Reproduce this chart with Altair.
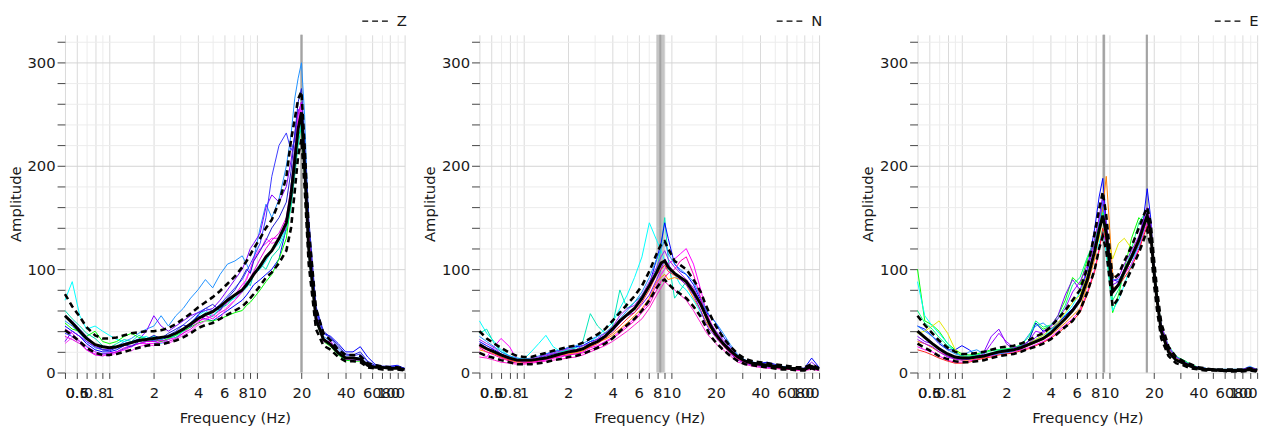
import altair as alt
import pandas as pd

FREQ = [0.5, 0.56, 0.63, 0.7, 0.8, 0.9,
        1.0, 1.12, 1.26, 1.41, 1.58, 1.78,
        2.0, 2.24, 2.51, 2.82, 3.16, 3.55, 3.98,
        4.47, 5.01, 5.62, 6.31, 7.08, 7.94,
        8.5, 9.0, 9.5, 10.5, 11.5, 12.6,
        14.1, 15.8, 17.0, 18.0, 19.0, 20.0,
        21.0, 22.4, 25.1, 28.2, 31.6, 35.5,
        39.8, 44.7, 50.1, 56.2, 63.1, 70.8,
        79.4, 89.1, 100.0]

X_TICKS = [0.5, 0.6, 0.7, 0.8, 0.9, 1, 2, 3, 4, 5, 6, 7, 8, 9,
           10, 20, 30, 40, 50, 60, 70, 80, 90, 100]
X_LABELS = [0.5, 0.6, 0.8, 1, 2, 4, 6, 8, 10, 20, 40, 60, 80, 100]
Y_TICKS = list(range(0, 321, 20))

# ---------------- Z component ----------------
Z_MEAN = [55, 48, 40, 33, 27, 25,
          24, 25, 27, 29, 31, 32,
          33, 34, 35, 38, 42, 47, 52,
          56, 59, 64, 70, 75, 80,
          85, 90, 95, 103, 112, 118,
          130, 145, 172, 205, 236, 252,
          200, 120, 52, 32, 27, 19,
          14, 14, 13, 7, 5, 5,
          4, 4, 3]
Z_UPPER = [76, 64, 54, 44, 36, 33,
           33, 34, 36, 38, 39, 40,
           40, 41, 43, 47, 52, 57, 63,
           68, 73, 79, 86, 93, 102,
           108, 114, 120, 130, 140, 148,
           165, 189, 225, 245, 265, 272,
           220, 140, 62, 38, 31, 22,
           17, 17, 16, 9, 7, 6,
           5, 5, 4]
Z_LOWER = [41, 36, 30, 24, 19, 17,
           17, 18, 20, 22, 24, 26,
           27, 27, 29, 31, 34, 38, 43,
           46, 48, 52, 56, 60, 64,
           68, 72, 76, 84, 92, 97,
           106, 118, 140, 175, 210, 226,
           180, 105, 42, 26, 22, 15,
           11, 11, 10, 5, 4, 3,
           3, 3, 2]
Z_W1 = [50, 45, 38, 30, 24, 22,
        22, 25, 30, 33, 38, 42,
        45, 55, 45, 55, 62, 72, 80,
        90, 82, 95, 105, 108, 113,
        105, 97, 110, 140, 163, 150,
        168, 200, 230, 265, 285, 300,
        250, 140, 55, 35, 30, 22,
        15, 14, 15, 8, 6, 5,
        5, 5, 4]
Z_W2 = [70, 88, 55, 42, 45, 40,
        36, 32, 30, 28, 33, 35,
        30, 28, 32, 36, 42, 48, 55,
        60, 55, 62, 68, 72, 78,
        82, 88, 95, 100, 108, 118,
        125, 140, 165, 195, 225, 245,
        195, 115, 50, 33, 27, 19,
        13, 12, 12, 7, 5, 4,
        4, 4, 3]
Z_W3 = [45, 40, 35, 28, 22, 20,
        20, 22, 26, 30, 32, 30,
        30, 32, 34, 38, 42, 48, 55,
        52, 50, 55, 60, 65, 70,
        75, 80, 85, 90, 95, 100,
        110, 140, 180, 215, 240, 260,
        215, 140, 62, 38, 35, 28,
        20, 20, 25, 15, 8, 6,
        6, 7, 4]
Z_W4 = [30, 40, 35, 30, 25, 22,
        22, 25, 28, 30, 32, 40,
        55, 45, 40, 45, 50, 55, 58,
        60, 62, 70, 80, 90, 100,
        110, 120, 125, 135, 160, 172,
        165, 180, 205, 230, 255, 245,
        195, 125, 52, 32, 26, 19,
        12, 12, 12, 7, 5, 4,
        4, 4, 3]
Z_W5 = [42, 38, 30, 22, 18, 18,
        19, 20, 22, 25, 28, 28,
        28, 30, 32, 34, 38, 45, 50,
        52, 55, 60, 68, 75, 85,
        90, 100, 110, 120, 125, 130,
        130, 140, 165, 200, 240, 255,
        205, 130, 55, 30, 30, 20,
        13, 12, 13, 7, 5, 4,
        4, 4, 3]
Z_W6 = [48, 42, 40, 35, 40, 30,
        28, 30, 35, 38, 34, 32,
        32, 30, 33, 36, 40, 44, 48,
        50, 50, 52, 55, 58, 60,
        65, 68, 72, 80, 88, 95,
        110, 130, 165, 200, 230, 235,
        190, 120, 50, 30, 25, 17,
        12, 11, 11, 7, 5, 4,
        4, 4, 3]
Z_W7 = [38, 35, 30, 25, 20, 18,
        18, 20, 23, 26, 28, 30,
        31, 33, 36, 40, 46, 52, 58,
        62, 60, 66, 74, 82, 90,
        98, 105, 112, 125, 150, 190,
        220, 232, 215, 225, 250, 262,
        210, 135, 58, 38, 33, 24,
        17, 16, 18, 10, 6, 5,
        5, 5, 4]
Z_W8 = [35, 32, 28, 22, 17, 16,
        18, 20, 24, 26, 28, 30,
        30, 31, 30, 33, 38, 42, 48,
        55, 52, 58, 62, 70, 78,
        85, 92, 98, 110, 120, 128,
        135, 150, 180, 215, 250, 262,
        215, 135, 55, 33, 28, 20,
        14, 12, 14, 8, 5, 4,
        4, 4, 3]
Z_W9 = [60, 52, 45, 38, 33, 26,
        24, 28, 32, 30, 36, 33,
        35, 32, 36, 34, 40, 46, 52,
        58, 54, 62, 66, 74, 80,
        88, 84, 95, 105, 100, 112,
        120, 138, 160, 190, 220, 240,
        200, 125, 52, 33, 26, 18,
        13, 12, 13, 7, 5, 4,
        4, 4, 3]
Z_W10 = [28, 34, 30, 26, 20, 17,
         16, 19, 22, 21, 25, 27,
         26, 29, 28, 32, 36, 40, 46,
         50, 56, 52, 64, 70, 80,
         92, 100, 108, 118, 130, 125,
         128, 148, 175, 210, 245, 258,
         210, 128, 52, 30, 28, 19,
         13, 12, 12, 7, 5, 4,
         4, 4, 3]
Z_W11 = [55, 50, 42, 35, 27, 22,
         21, 24, 27, 25, 30, 32,
         36, 33, 38, 42, 46, 44, 56,
         62, 66, 60, 72, 80, 92,
         100, 96, 108, 118, 128, 140,
         150, 165, 195, 230, 262, 275,
         225, 150, 64, 40, 34, 26,
         18, 17, 20, 11, 7, 6,
         6, 6, 4]
Z_WINDOWS = [Z_W1, Z_W2, Z_W3, Z_W4, Z_W5, Z_W6, Z_W7, Z_W8, Z_W9, Z_W10, Z_W11]
Z_COLORS = ["#1e90ff", "#00ffff", "#0000ff", "#8000ff", "#ff00ff", "#00ff00", "#3a3aff",
            "#e000e0", "#00e0b0", "#ff40ff", "#2020d0"]
Z_BAND_LO = [19.7]
Z_BAND_HI = [20.4]
Z_PEAKS = [20.0]

# ---------------- N component ----------------
N_MEAN = [27, 23, 20, 17, 14, 12,
          12, 12, 13, 14, 16, 18,
          20, 21, 23, 27, 30, 35, 42,
          50, 56, 62, 72, 84, 97,
          106, 108, 102, 96, 92, 88,
          78, 66, 56, 48, 42, 37,
          33, 28, 21, 15, 11, 9,
          8, 7, 6, 5, 4, 4,
          3, 6, 3]
N_UPPER = [40, 33, 28, 24, 19, 16,
           15, 15, 17, 19, 21, 23,
           25, 26, 29, 33, 37, 42, 50,
           58, 66, 74, 84, 98, 115,
           124, 127, 120, 108, 104, 100,
           90, 78, 66, 58, 51, 45,
           40, 34, 25, 18, 13, 11,
           10, 9, 8, 7, 6, 5,
           5, 8, 4]
N_LOWER = [19, 16, 14, 12, 10, 8,
           8, 8, 9, 10, 12, 13,
           15, 16, 18, 21, 24, 28, 33,
           40, 46, 52, 60, 70, 82,
           88, 90, 86, 80, 76, 72,
           64, 54, 45, 38, 33, 29,
           26, 22, 16, 11, 8, 7,
           6, 5, 4, 3, 3, 2,
           2, 4, 2]
N_W1 = [50, 38, 30, 22, 16, 14,
        13, 20, 28, 36, 25, 20,
        22, 24, 26, 30, 35, 42, 48,
        62, 75, 92, 112, 145, 128,
        118, 108, 100, 95, 85, 80,
        70, 58, 50, 45, 40, 36,
        32, 28, 20, 14, 11, 9,
        8, 7, 6, 5, 4, 4,
        3, 4, 3]
N_W2 = [38, 42, 28, 20, 16, 13,
        12, 12, 14, 16, 18, 20,
        22, 24, 30, 57, 45, 38, 45,
        80, 62, 68, 75, 85, 100,
        120, 150, 110, 72, 80, 88,
        80, 65, 55, 48, 44, 40,
        36, 30, 22, 15, 12, 10,
        8, 7, 6, 5, 4, 4,
        3, 4, 3]
N_W3 = [20, 15, 25, 33, 25, 12,
        10, 10, 11, 12, 14, 15,
        17, 18, 20, 24, 26, 30, 34,
        40, 46, 52, 60, 70, 85,
        95, 100, 105, 110, 115, 120,
        105, 80, 62, 52, 45, 40,
        36, 30, 22, 15, 11, 9,
        8, 6, 5, 4, 4, 3,
        3, 4, 3]
N_W4 = [30, 26, 22, 18, 14, 12,
        10, 11, 14, 18, 20, 22,
        24, 25, 26, 30, 32, 36, 40,
        50, 55, 62, 70, 85, 110,
        125, 145, 130, 105, 98, 95,
        85, 70, 60, 55, 52, 48,
        42, 35, 25, 16, 12, 10,
        9, 10, 8, 6, 5, 4,
        4, 14, 5]
N_W5 = [22, 20, 18, 15, 12, 10,
        10, 10, 12, 13, 15, 17,
        18, 19, 21, 25, 30, 32, 36,
        42, 48, 55, 62, 72, 88,
        92, 95, 90, 92, 90, 85,
        72, 60, 50, 44, 40, 36,
        32, 27, 20, 14, 10, 8,
        7, 6, 5, 4, 3, 3,
        3, 4, 3]
N_W6 = [28, 24, 20, 16, 13, 11,
        10, 11, 13, 16, 18, 19,
        20, 21, 23, 27, 30, 35, 40,
        48, 55, 58, 66, 75, 90,
        100, 110, 105, 95, 90, 85,
        75, 60, 48, 42, 38, 34,
        30, 26, 18, 12, 9, 7,
        6, 5, 5, 4, 3, 3,
        3, 4, 2]
N_W7 = [15, 14, 12, 10, 9, 8,
        8, 9, 10, 11, 12, 13,
        14, 15, 17, 20, 23, 26, 30,
        35, 40, 46, 52, 62, 75,
        82, 88, 85, 80, 75, 70,
        60, 48, 40, 35, 32, 28,
        25, 22, 16, 10, 8, 6,
        5, 4, 4, 3, 3, 2,
        2, 3, 2]
N_W8 = [35, 30, 25, 20, 16, 14,
        13, 14, 16, 18, 20, 22,
        24, 26, 28, 32, 35, 38, 42,
        52, 60, 68, 78, 92, 110,
        120, 128, 115, 105, 100, 95,
        88, 72, 62, 56, 52, 48,
        44, 38, 27, 17, 12, 10,
        9, 8, 7, 6, 5, 4,
        4, 6, 4]
N_W9 = [25, 22, 19, 15, 12, 11,
        10, 11, 12, 14, 15, 17,
        19, 20, 22, 25, 28, 33, 38,
        45, 52, 58, 68, 80, 95,
        100, 104, 98, 94, 92, 90,
        80, 65, 54, 46, 40, 35,
        31, 26, 19, 13, 10, 8,
        7, 6, 5, 4, 3, 3,
        3, 5, 3]
N_W10 = [32, 28, 24, 18, 15, 12,
         11, 13, 15, 17, 19, 21,
         23, 22, 26, 28, 33, 38, 44,
         55, 62, 65, 75, 88, 102,
         112, 118, 110, 102, 96, 90,
         82, 68, 56, 50, 45, 40,
         36, 32, 23, 15, 11, 9,
         8, 8, 7, 5, 4, 4,
         4, 10, 4]
N_W11 = [24, 20, 17, 14, 11, 9,
         9, 10, 11, 13, 14, 16,
         17, 18, 19, 22, 25, 29, 33,
         38, 44, 50, 58, 66, 80,
         88, 92, 96, 100, 108, 112,
         95, 72, 56, 46, 41, 36,
         32, 27, 19, 13, 10, 8,
         7, 6, 5, 4, 3, 3,
         3, 4, 3]
N_WINDOWS = [N_W1, N_W2, N_W3, N_W4, N_W5, N_W6, N_W7, N_W8, N_W9, N_W10, N_W11]
N_COLORS = ["#00ffff", "#00e6b8", "#ff00ff", "#0000ff", "#ff8c00", "#8000ff", "#ff1dce",
            "#1e90ff", "#ff3030", "#a020f0", "#ff00c0"]
N_BAND_LO = [7.9]
N_BAND_HI = [9.0]
N_PEAKS = [8.4]

# ---------------- E component ----------------
E_MEAN = [40, 34, 28, 23, 18, 15,
          14, 14, 15, 16, 18, 20,
          21, 22, 24, 27, 30, 33, 38,
          45, 52, 60, 70, 90, 118,
          138, 152, 135, 78, 85, 98,
          112, 128, 142, 152, 135, 98,
          70, 40, 20, 12, 9, 6,
          4, 3, 3, 2, 2, 2,
          2, 3, 2]
E_UPPER = [55, 46, 38, 31, 24, 20,
           18, 18, 19, 20, 22, 24,
           25, 26, 28, 31, 35, 38, 44,
           52, 60, 70, 80, 102, 135,
           158, 175, 152, 90, 95, 108,
           122, 140, 152, 160, 145, 110,
           80, 48, 25, 15, 11, 8,
           5, 4, 3, 3, 3, 3,
           3, 4, 3]
E_LOWER = [28, 24, 20, 16, 13, 11,
           10, 10, 11, 12, 14, 16,
           17, 18, 20, 23, 25, 28, 32,
           38, 44, 50, 60, 78, 100,
           120, 132, 118, 64, 72, 85,
           100, 116, 128, 138, 122, 86,
           60, 33, 16, 9, 7, 4,
           3, 2, 2, 2, 1, 1,
           1, 2, 1]
E_W1 = [100, 50, 46, 40, 28, 22,
        18, 17, 18, 20, 22, 22,
        23, 24, 26, 30, 48, 42, 45,
        55, 70, 92, 85, 110, 125,
        140, 160, 120, 58, 75, 100,
        130, 150, 145, 150, 140, 105,
        75, 45, 24, 15, 12, 8,
        5, 4, 3, 3, 3, 3,
        3, 4, 3]
E_W2 = [88, 55, 45, 38, 28, 20,
        16, 15, 16, 17, 19, 21,
        22, 23, 25, 28, 32, 36, 40,
        48, 56, 65, 78, 100, 115,
        125, 140, 115, 60, 70, 85,
        105, 125, 140, 148, 132, 95,
        68, 42, 22, 14, 10, 7,
        4, 3, 3, 2, 2, 2,
        2, 3, 2]
E_W3 = [45, 42, 35, 28, 22, 22,
        26, 22, 16, 16, 18, 19,
        20, 22, 25, 30, 48, 40, 42,
        48, 55, 62, 72, 100, 140,
        170, 188, 145, 90, 88, 95,
        110, 125, 150, 178, 150, 100,
        70, 44, 24, 15, 11, 7,
        5, 4, 3, 3, 3, 3,
        3, 5, 3]
E_W4 = [30, 28, 24, 20, 16, 13,
        12, 12, 13, 15, 17, 19,
        20, 21, 23, 26, 29, 32, 36,
        42, 48, 55, 62, 85, 110,
        135, 160, 190, 95, 90, 95,
        110, 125, 138, 148, 132, 96,
        66, 40, 21, 13, 9, 6,
        4, 3, 2, 2, 2, 2,
        2, 3, 2]
E_W5 = [25, 22, 20, 16, 12, 10,
        10, 11, 13, 15, 16, 18,
        19, 20, 22, 24, 27, 30, 34,
        40, 46, 52, 60, 78, 100,
        120, 135, 125, 80, 85, 95,
        105, 120, 135, 145, 135, 100,
        70, 43, 22, 13, 10, 7,
        4, 3, 2, 2, 2, 2,
        2, 3, 2]
E_W6 = [35, 30, 28, 22, 16, 14,
        13, 14, 16, 20, 35, 42,
        28, 22, 24, 28, 34, 40, 45,
        55, 75, 90, 80, 100, 125,
        145, 165, 140, 85, 88, 100,
        115, 130, 145, 155, 140, 102,
        72, 45, 23, 14, 10, 7,
        4, 3, 3, 2, 2, 2,
        2, 3, 2]
E_W7 = [38, 40, 45, 50, 38, 22,
        16, 14, 14, 15, 18, 20,
        21, 22, 24, 28, 32, 36, 42,
        48, 58, 68, 75, 95, 118,
        130, 150, 135, 110, 125, 130,
        120, 128, 140, 150, 138, 100,
        68, 43, 23, 14, 10, 7,
        4, 3, 3, 2, 2, 2,
        2, 3, 2]
E_W8 = [45, 40, 35, 30, 22, 18,
        16, 20, 22, 18, 17, 18,
        19, 21, 26, 36, 45, 48, 42,
        46, 52, 60, 70, 92, 120,
        145, 168, 135, 90, 90, 98,
        110, 122, 138, 150, 135, 98,
        68, 43, 23, 15, 11, 7,
        5, 4, 3, 3, 3, 3,
        3, 6, 3]
E_W9 = [60, 48, 42, 34, 26, 20,
        16, 16, 17, 19, 21, 22,
        23, 24, 27, 34, 50, 44, 46,
        52, 65, 85, 92, 112, 128,
        142, 155, 130, 70, 80, 95,
        120, 145, 152, 148, 135, 100,
        72, 46, 26, 16, 12, 8,
        5, 4, 3, 3, 3, 3,
        3, 4, 3]
E_W10 = [22, 20, 17, 14, 11, 9,
         9, 10, 12, 14, 15, 17,
         18, 19, 21, 23, 26, 29, 33,
         38, 44, 50, 58, 76, 98,
         118, 140, 128, 82, 84, 92,
         102, 118, 132, 142, 130, 98,
         68, 42, 22, 13, 9, 6,
         4, 3, 2, 2, 2, 2,
         2, 3, 2]
E_W11 = [32, 28, 25, 20, 15, 13,
         12, 13, 15, 18, 28, 38,
         30, 24, 25, 30, 40, 38, 44,
         52, 62, 78, 88, 104, 130,
         150, 172, 142, 88, 92, 105,
         118, 132, 148, 160, 145, 104,
         72, 46, 25, 15, 11, 7,
         5, 4, 3, 3, 3, 3,
         3, 5, 3]
E_WINDOWS = [E_W1, E_W2, E_W3, E_W4, E_W5, E_W6, E_W7, E_W8, E_W9, E_W10, E_W11]
E_COLORS = ["#00ff00", "#00ffff", "#0000ff", "#ff7f00", "#ff00ff", "#8000ff", "#e6e600",
            "#1e90ff", "#00ff80", "#ff2020", "#a000ff"]
E_BAND_LO = [8.95, 17.6]
E_BAND_HI = [9.35, 18.2]
E_PEAKS = [9.15, 17.9]

FONT = "DejaVu Sans"
TXT = "#1a1a1a"
W, H = 345, 343


def panel(comp, windows, colors, mean, upper, lower, band_lo, band_hi, peaks):
    rows = []
    ids = []
    for i, vals in enumerate(windows):
        assert len(vals) == len(FREQ), (comp, i, len(vals))
        cid = f"{comp}{i}"
        ids.append(cid)
        rows += [{"f": f, "amp": a, "curve": cid} for f, a in zip(FREQ, vals)]
    win_df = pd.DataFrame(rows)
    for nm, arr in (("mean", mean), ("upper", upper), ("lower", lower)):
        assert len(arr) == len(FREQ), (comp, nm, len(arr))
    mean_df = pd.DataFrame({"f": FREQ, "amp": mean})
    std_df = pd.DataFrame({
        "f": FREQ + FREQ,
        "amp": upper + lower,
        "curve": ["u"] * len(FREQ) + ["l"] * len(FREQ),
        "comp": [comp] * (2 * len(FREQ)),
    })
    band_df = pd.DataFrame({"f": band_lo, "f2": band_hi})
    peak_df = pd.DataFrame({"f": peaks})

    lab = ",".join(str(v) for v in X_LABELS)
    xaxis = alt.Axis(
        values=X_TICKS, format="~g",
        labelExpr=f"indexof([{lab}], datum.value) >= 0 ? datum.label : ''",
        labelOverlap=False, labelFlush=True, tickSize=6, labelPadding=7,
        titlePadding=11,
        gridColor={"condition": {"test": f"indexof([{lab}], datum.value) >= 0",
                                 "value": "#d9d9d9"}, "value": "#ececec"},
    )
    yaxis = alt.Axis(
        values=Y_TICKS,
        labelExpr="datum.value % 100 === 0 ? datum.label : ''",
        tickSize=8, labelPadding=2, titlePadding=4,
        gridColor={"condition": {"test": "datum.value % 100 === 0",
                                 "value": "#d4d4d4"}, "value": "#ececec"},
    )
    xs = alt.Scale(type="log", domain=[0.5, 100], nice=False)
    ys = alt.Scale(domain=[0, 327], nice=False)
    X = alt.X("f:Q", scale=xs, axis=xaxis, title="Frequency (Hz)")
    Y = alt.Y("amp:Q", scale=ys, axis=yaxis, title="Amplitude")

    band = alt.Chart(band_df).mark_rect(color="#c4c4c4").encode(
        x=X, x2="f2:Q", y=alt.value(0), y2=alt.value(H))
    peak = alt.Chart(peak_df).mark_rule(color="#a3a3a3", strokeWidth=2).encode(x=X)
    lines = alt.Chart(win_df).mark_line(strokeWidth=1).encode(
        x=X, y=Y,
        color=alt.Color("curve:N", scale=alt.Scale(domain=ids, range=colors), legend=None))
    std = alt.Chart(std_df).mark_line(color="black", strokeWidth=2.6).encode(
        x=X, y=Y, detail="curve:N",
        strokeDash=alt.StrokeDash(
            "comp:N", scale=alt.Scale(domain=[comp], range=[[6, 4]]),
            legend=alt.Legend(orient="none", legendX=W - 44, legendY=-28, title=None,
                              symbolType="stroke", symbolSize=676, symbolStrokeWidth=1.4,
                              symbolDash=[5, 6], symbolStrokeColor="black",
                              labelFont=FONT, labelFontSize=15, labelColor=TXT,
                              labelOffset=8, padding=0)))
    mean_l = alt.Chart(mean_df).mark_line(color="black", strokeWidth=3).encode(x=X, y=Y)
    return alt.layer(band, peak, lines, std, mean_l).properties(width=W, height=H)


def indep(c):
    return c.resolve_scale(x="independent", y="independent", color="independent",
                           strokeDash="independent").resolve_legend(
        strokeDash="independent", color="independent")


pZ = panel("Z", Z_WINDOWS, Z_COLORS, Z_MEAN, Z_UPPER, Z_LOWER, Z_BAND_LO, Z_BAND_HI, Z_PEAKS)
pN = panel("N", N_WINDOWS, N_COLORS, N_MEAN, N_UPPER, N_LOWER, N_BAND_LO, N_BAND_HI, N_PEAKS)
pE = panel("E", E_WINDOWS, E_COLORS, E_MEAN, E_UPPER, E_LOWER, E_BAND_LO, E_BAND_HI, E_PEAKS)

inner = indep(alt.hconcat(pZ, pN, spacing=12))
chart = indep(alt.hconcat(inner, pE, spacing=36)).properties(
    padding={"left": 8, "top": 4, "right": 3, "bottom": 2}
).configure_view(stroke=None).configure_axis(
    labelFont=FONT, titleFont=FONT, labelFontSize=15, titleFontSize=15,
    labelColor=TXT, titleColor=TXT, titleFontWeight="normal",
    tickColor="#444444", domain=False,
)

chart.save("out.html", embed_options={"renderer": "svg", "actions": False})
